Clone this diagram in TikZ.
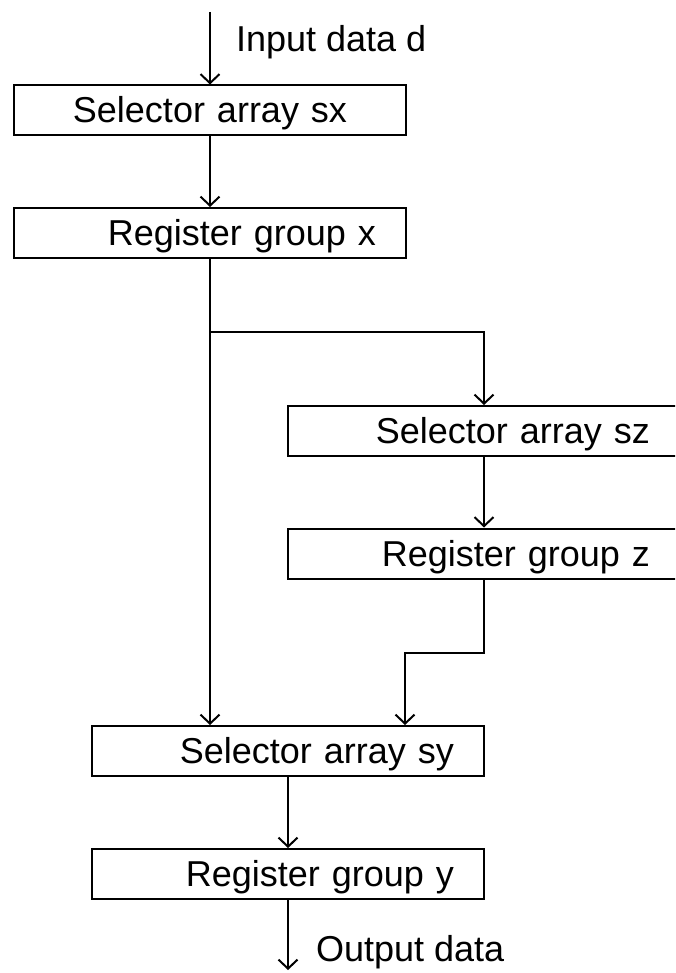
\documentclass[tikz,border=0pt]{standalone}
\usepackage{fontspec}
\setmainfont{Liberation Sans}
\usetikzlibrary{arrows.meta}

\begin{document}
\begin{tikzpicture}[x=1pt,y=-1pt,line width=2pt,>={Straight Barb[length=9pt,width=19pt]},
  font=\fontsize{36}{43}\selectfont,
  blk/.style={draw,minimum width=392pt,minimum height=50pt,inner xsep=30pt,
    text width=332pt,align=right,text height=25pt,text depth=0pt},
  lbl/.style={anchor=base west,inner sep=0pt}]

\clip (0,0) rectangle (675,973);

% Blocks
\node[blk,align=center] (sx) at (210,110.5) {Selector array sx};
\node[blk] (rx) at (210,233) {Register group x};
\node[blk] (sz) at (484,431) {Selector array sz};
\node[blk] (rz) at (484,553.5) {Register group z};
\node[blk] (sy) at (288,751) {Selector array sy};
\node[blk] (ry) at (288,874) {Register group y};

% Input and output
\coordinate (din) at (210,12);
\coordinate (dout) at (288,970);
\node[lbl] (tin) at (235,52) {Input data d};
\node[lbl] (tout) at (315,961) {Output data};
\draw[->] (din) -- (sx);
\draw[->] (ry) -- (dout);

% Main path
\draw[->] (sx) -- (rx);
\draw[->] (rx) -- (rx |- sy.north);
\draw[->] (sy) -- (ry);

% Branch through z
\coordinate (split) at (210,332);
\coordinate (jog) at (405,653);
\draw[->] (split) -| (sz);
\draw[->] (sz) -- (rz);
\draw[->] (rz) |- (jog) -- (jog |- sy.north);
\end{tikzpicture}
\end{document}
